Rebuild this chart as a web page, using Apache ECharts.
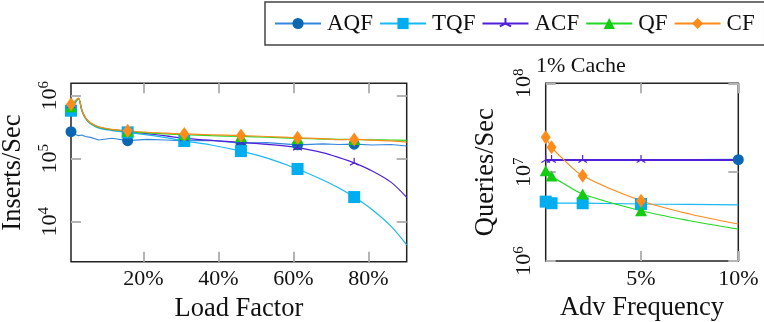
<!DOCTYPE html>
<html>
<head>
<meta charset="utf-8">
<script src="https://cdn.jsdelivr.net/npm/echarts@6/dist/echarts.min.js"></script>
<style>
  html, body { margin: 0; padding: 0; background: #fff; }
  #chart { width: 764px; height: 322px; }
</style>
</head>
<body>
<div id="chart"></div>
<script>
// left panel: load factor (%) vs inserts/sec
const loadFactor = [0.7, 1.7, 2.7, 3.6, 4.5, 5.9, 8.1, 11.6, 15.8, 21, 26, 30.9, 38, 46, 53, 61.1, 68, 72, 76.2, 81, 86, 90.2]
const loadMarks = [0, 8, 11, 13, 15, 18]
const insAQF = [269e3, 245e3, 232e3, 238e3, 225e3, 218e3, 198e3, 211e3, 193e3, 203e3, 198e3, 192e3, 195e3, 177e3, 180e3, 166e3, 172e3, 168e3, 170e3, 165e3, 168e3, 159e3]
const insTQF = [578e3, 740e3, 880e3, 570e3, 440e3, 360e3, 305e3, 280e3, 262e3, 239e3, 216e3, 191e3, 165e3, 132e3, 102e3, 68.7e3, 45.5e3, 34.5e3, 24.6e3, 15.5e3, 8.5e3, 4.27e3]
const insACF = [700e3, 800e3, 905e3, 590e3, 450e3, 370e3, 318e3, 290e3, 272e3, 250e3, 230e3, 210e3, 196e3, 182e3, 169e3, 150e3, 124e3, 105e3, 86e3, 64e3, 42.5e3, 24.4e3]
const insQF = [670e3, 780e3, 900e3, 585e3, 447e3, 366e3, 316e3, 288e3, 272e3, 257e3, 248e3, 240e3, 232e3, 226e3, 219e3, 210e3, 205e3, 203e3, 201e3, 199e3, 198e3, 196e3]
const insCF = [730e3, 820e3, 920e3, 593e3, 454e3, 373e3, 322e3, 293e3, 278e3, 263e3, 254e3, 247e3, 240e3, 233e3, 225e3, 215e3, 209e3, 200e3, 202e3, 197e3, 192e3, 183e3]

// right panel: adversarial frequency (%) vs queries/sec, 1% cache
const advFreq = [0.1, 0.4, 1, 2, 5, 7.5, 10]
const advMarks = [0, 1, 3, 4]
const qAQF = [13.7e6, 13.7e6, 13.7e6, 13.7e6, 13.7e6, 13.7e6, 13.8e6]
const qTQF = [4.66e6, 4.47e6, 4.47e6, 4.47e6, 4.38e6, 4.33e6, 4.28e6]
const qACF = [13.7e6, 13.7e6, 13.7e6, 13.7e6, 13.7e6, 13.7e6, 13.7e6]
const qQF = [10.4e6, 9.06e6, 7.5e6, 5.68e6, 3.68e6, 2.84e6, 2.28e6]
const qCF = [24.7e6, 19.1e6, 14e6, 9.1e6, 4.77e6, 3.38e6, 2.61e6]

const loadTicks = [20, 40, 60, 80]
const insTicks = [1e4, 1e5, 1e6]
const advTicks = [5, 10]
const qTicks = [1e6, 1e7, 1e8]

const FONT = 'Liberation Serif'
const triPath = 'path://M0,-5L0,0L-4.33,2.5M0,0L4.33,2.5M0,5'

const styles = {
  AQF: { line: '#3388dd', mark: '#0b67b2', symbol: 'circle', size: 11 },
  TQF: { line: '#1ab8f2', mark: '#00aeef', symbol: 'rect', size: 12 },
  ACF: { line: '#5020d8', mark: '#5020d8', symbol: triPath, size: 10 },
  QF: { line: '#22d822', mark: '#11cc11', symbol: 'triangle', size: [12, 11] },
  CF: { line: '#ff8b1a', mark: '#ff8b1a', symbol: 'diamond', size: [10, 14] }
}

function pts (xs, ys, marks) {
  return xs.map(function (x, i) {
    if (marks.indexOf(i) >= 0) return [x, ys[i]]
    return { value: [x, ys[i]], symbol: 'none' }
  })
}

function mkSeries (name, xs, ys, marks, idx, smooth, width) {
  let s = styles[name]
  let isTri = name === 'ACF'
  return {
    name: name,
    type: 'line',
    xAxisIndex: idx,
    yAxisIndex: idx,
    data: pts(xs, ys, marks),
    symbol: s.symbol,
    symbolSize: s.size,
    symbolKeepAspect: true,
    smooth: smooth,
    showAllSymbol: true,
    lineStyle: { color: s.line, width: width },
    itemStyle: isTri
      ? { color: 'rgba(0,0,0,0)', borderColor: s.mark, borderWidth: 1.2 }
      : { color: s.mark, borderWidth: 0 },
    emphasis: { disabled: true }
  }
}

function supLabel (v) {
  return '{b|10}{s|' + Math.round(Math.log10(v)) + '}'
}
const rich = {
  b: { fontFamily: FONT, fontSize: 22, color: '#111' },
  s: { fontFamily: FONT, fontSize: 15, color: '#111', padding: [0, 0, 11, 0] }
}
const grayTick = { show: true, inside: true, length: 10, lineStyle: { color: '#b4b4b4', width: 2 } }

function xAx (gi, min, max, ticks, name, gap, top) {
  return {
    type: 'value', gridIndex: gi, min: min, max: max,
    position: top ? 'top' : 'bottom',
    name: top ? '' : name, nameLocation: 'middle', nameGap: gap,
    nameTextStyle: { fontFamily: FONT, fontSize: 26.5, color: '#111' },
    axisLine: { show: false },
    axisTick: Object.assign({ customValues: ticks }, grayTick),
    axisLabel: {
      show: !top, customValues: ticks, margin: 7,
      fontFamily: FONT, fontSize: 22, color: '#111',
      formatter: function (v) { return v + '%' }
    },
    splitLine: { show: false }
  }
}

function yAx (gi, min, max, ticks, name, gap, right) {
  return {
    type: 'log', gridIndex: gi, min: min, max: max,
    position: right ? 'right' : 'left',
    name: right ? '' : name, nameLocation: 'middle', nameGap: gap,
    nameTextStyle: { fontFamily: FONT, fontSize: 26.5, color: '#111' },
    axisLine: { show: false },
    axisTick: Object.assign({ customValues: ticks }, grayTick),
    axisLabel: {
      show: !right, customValues: ticks, rotate: 90, margin: 8,
      formatter: supLabel, rich: rich
    },
    splitLine: { show: false },
    minorTick: { show: false }
  }
}

let myChart = echarts.init(document.getElementById('chart'), null, { renderer: 'canvas' })

let option = {
  animation: false,
  textStyle: { fontFamily: FONT },
  title: {
    text: '1% Cache', left: 531, top: 50,
    textStyle: { fontFamily: FONT, fontSize: 22, fontWeight: 'normal', color: '#111' }
  },
  legend: {
    left: 265, top: 2, width: 700, orient: 'horizontal',
    padding: [10, 10, 10, 9],
    borderColor: '#444', borderWidth: 1.5,
    itemWidth: 46, itemHeight: 14, itemGap: 6,
    textStyle: { fontFamily: FONT, fontSize: 23, color: '#111', padding: [0, 0, 0, 1] },
    data: ['AQF', 'TQF', 'ACF', 'QF', 'CF']
  },
  grid: [
    { left: 71, top: 83.3, width: 335.7, height: 178.4, outerBoundsMode: 'none', containLabel: false, show: true, borderColor: '#222', borderWidth: 1.5, backgroundColor: 'transparent' },
    { left: 545.7, top: 83.3, width: 192.6, height: 177.7, outerBoundsMode: 'none', containLabel: false, show: true, borderColor: '#222', borderWidth: 1.5, backgroundColor: 'transparent' }
  ],
  xAxis: [
    xAx(0, 0.7, 90.2, loadTicks, 'Load Factor', 24, false),
    xAx(1, 0.1, 10, advTicks, 'Adv Frequency', 24, false),
    xAx(0, 0.7, 90.2, loadTicks, '', 0, true),
    xAx(1, 0.1, 10, advTicks, '', 0, true)
  ],
  yAxis: [
    yAx(0, 2317, 1574000, insTicks, 'Inserts/Sec', 44, false),
    yAx(1, 1e6, 1e8, qTicks, 'Queries/Sec', 46, false),
    yAx(0, 2317, 1574000, insTicks, '', 0, true),
    yAx(1, 1e6, 1e8, qTicks, '', 0, true)
  ],
  series: [
    mkSeries('AQF', loadFactor, insAQF, loadMarks, 0, false, 1.2),
    mkSeries('TQF', loadFactor, insTQF, loadMarks, 0, 0.3, 1.2),
    mkSeries('ACF', loadFactor, insACF, loadMarks, 0, 0.3, 1.2),
    mkSeries('QF', loadFactor, insQF, loadMarks, 0, 0.3, 1.2),
    mkSeries('CF', loadFactor, insCF, loadMarks, 0, 0.3, 1.2),
    mkSeries('AQF', advFreq, qAQF, [6], 1, false, 2),
    mkSeries('TQF', advFreq, qTQF, advMarks, 1, false, 1.2),
    mkSeries('ACF', advFreq, qACF, advMarks, 1, false, 2),
    mkSeries('QF', advFreq, qQF, advMarks, 1, 0.3, 1.2),
    mkSeries('CF', advFreq, qCF, advMarks, 1, 0.3, 1.2)
  ]
}

myChart.setOption(option, true)
</script>
</body>
</html>
